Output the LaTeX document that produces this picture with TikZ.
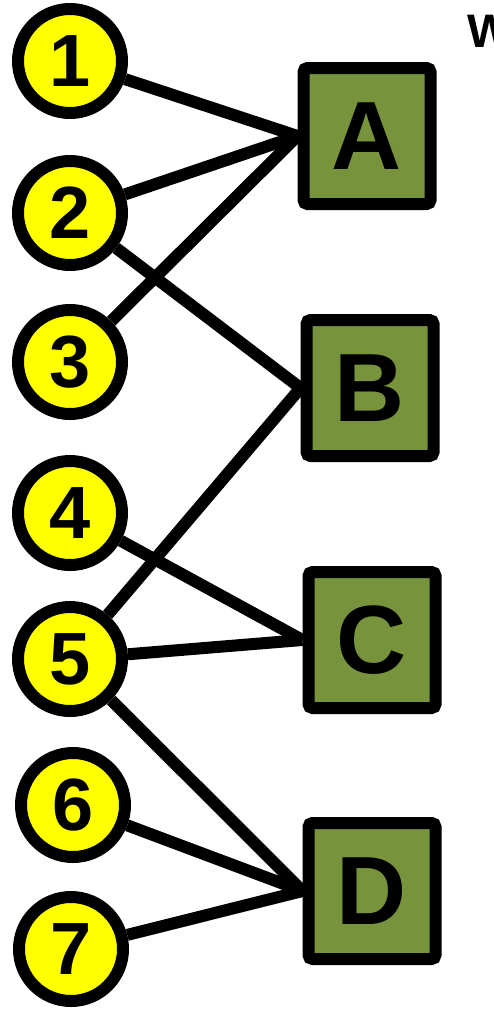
\documentclass[tikz,border=0pt]{standalone}
\usepackage{fontspec}
\setmainfont{Liberation Sans}
\usetikzlibrary{backgrounds,shadows.blur}
\definecolor{leafgreen}{HTML}{77933C}
\definecolor{dotyellow}{HTML}{FFFF00}
\begin{document}
\begin{tikzpicture}[x=1pt,y=-1pt,
  item/.style={circle,draw=black,line width=12pt,fill=dotyellow,
    minimum size=104pt,inner sep=0pt,
    font=\fontsize{74}{74}\selectfont\bfseries,
    blur shadow={shadow xshift=1pt,shadow yshift=-2pt,shadow opacity=25,shadow blur steps=4}},
  group/.style={rectangle,draw=black,line width=12pt,fill=leafgreen,rounded corners=4pt,
    minimum width=127pt,minimum height=136pt,inner sep=0pt,
    font=\fontsize{97}{97}\selectfont\bfseries,
    blur shadow={shadow xshift=1pt,shadow yshift=-2pt,shadow opacity=25,shadow blur steps=4}},
  link/.style={line width=12pt,draw=black}]
\useasboundingbox (0,0) rectangle (494,1009);

% left column: numbered items
\node[item] (n1) at (70,61)  {1};
\node[item] (n2) at (70,213) {2};
\node[item] (n3) at (70,362) {3};
\node[item] (n4) at (70,513) {4};
\node[item] (n5) at (70,659) {5};
\node[item] (n6) at (73,805) {6};
\node[item] (n7) at (71,949) {7};

% right column: lettered groups
\node[group] (gA) at (367,136) {A};
\node[group] (gB) at (370,388) {B};
\node[group] (gC) at (372,640) {C};
\node[group] (gD) at (372,891) {D};

% heading, running past the right edge
\node[anchor=north west,inner sep=0pt,font=\fontsize{47}{47}\selectfont\bfseries] (head) at (467,15) {W};

% connections, kept underneath the nodes
\begin{pgfonlayer}{background}
\draw[link] (n1) -- (gA.west);
\draw[link] (n2) -- (gA.west);
\draw[link] (n3) -- (gA.west);
\draw[link] (n2) -- (gB.west);
\draw[link] (n5) -- (gB.west);
\draw[link] (n4) -- (gC.west);
\draw[link] (n5) -- (gC.west);
\draw[link] (n5) -- (gD.west);
\draw[link] (n6) -- (gD.west);
\draw[link] (n7) -- (gD.west);
\end{pgfonlayer}
\end{tikzpicture}
\end{document}
